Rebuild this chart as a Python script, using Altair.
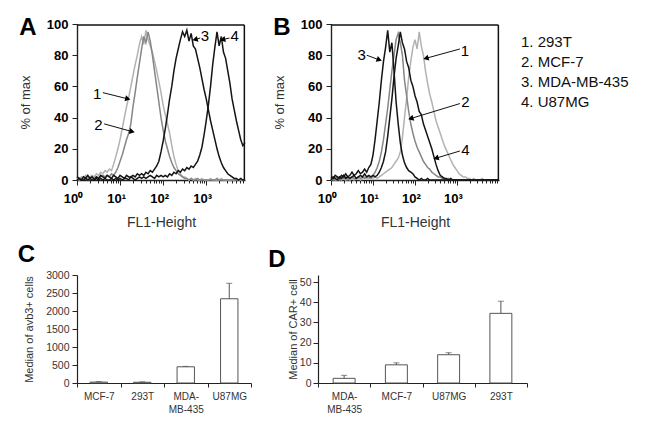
import math
import altair as alt
import pandas as pd

FONT = "Liberation Sans"

# ---------------- histogram data (FL1-Height, log10 bins) ----------------
fl1_log = [0.00, 0.05, 0.10, 0.15, 0.20, 0.25, 0.30, 0.35, 0.40, 0.45,
           0.50, 0.55, 0.60, 0.65, 0.70, 0.75, 0.80, 0.85, 0.90, 0.95,
           1.00, 1.05, 1.10, 1.15, 1.20, 1.25, 1.30, 1.35, 1.40, 1.45,
           1.50, 1.55, 1.60, 1.65, 1.70, 1.75, 1.80, 1.85, 1.90, 1.95,
           2.00, 2.05, 2.10, 2.15, 2.20, 2.25, 2.30, 2.35, 2.40, 2.45,
           2.50, 2.55, 2.60, 2.65, 2.70, 2.75, 2.80, 2.85, 2.90, 2.95,
           3.00, 3.05, 3.10, 3.15, 3.20, 3.25, 3.30, 3.35, 3.40, 3.45,
           3.50, 3.55, 3.60, 3.65, 3.70, 3.75, 3.80, 3.85, 3.90, 3.95,
           4.00]

series_names = ["1. 293T", "2. MCF-7", "3. MDA-MB-435", "4. U87MG"]
series_colors = ["#b2b2b2", "#868686", "#141414", "#141414"]

# Panel A (avb3 staining)
a_293t = [1, 0, 2, 1, 3, 1, 2, 3, 2, 4,
          3, 5, 4, 6, 5, 7, 6, 10, 15, 20,
          26, 33, 40, 47, 53, 60, 67, 74, 80, 87,
          92, 87, 96, 90, 86, 82, 76, 70, 63, 56,
          48, 42, 36, 30, 22, 15, 10, 6, 4, 2,
          2, 1, 0, 1, 0, 1, 0, 0, 1, 0,
          0, 0, 1, 0, 0, 0, 0, 1, 0, 0,
          0, 0, 0, 0, 1, 0, 0, 0, 0]
a_mcf7 = [0, 1, 0, 2, 1, 0, 1, 2, 1, 2,
          1, 2, 3, 2, 3, 2, 4, 3, 5, 8,
          12, 16, 21, 26, 30, 36, 47, 56, 66, 75,
          84, 92, 88, 95, 89, 80, 70, 60, 50, 40,
          32, 25, 20, 15, 11, 8, 6, 4, 3, 2,
          1, 1, 0, 1, 0, 0, 1, 0, 0, 0,
          0, 0, 0, 0, 0, 1, 0, 0, 0, 0,
          0, 0, 0, 0, 0, 0, 0, 0, 0]
a_mda = [2, 1, 0, 2, 1, 3, 1, 2, 0, 2,
         1, 3, 2, 1, 3, 2, 1, 3, 2, 1,
         3, 2, 1, 3, 2, 2, 3, 2, 4, 3,
         4, 3, 5, 4, 6, 5, 7, 9, 12, 18,
         25, 33, 42, 52, 60, 70, 78, 84, 90, 95,
         92, 96, 89, 94, 86, 84, 78, 72, 65, 58,
         52, 45, 38, 32, 26, 20, 15, 11, 8, 6,
         4, 3, 2, 1, 1, 0, 1, 0, 0]
a_u87 = [0, 1, 0, 0, 1, 0, 1, 0, 0, 1,
         0, 1, 0, 1, 0, 0, 1, 0, 1, 0,
         1, 0, 1, 1, 0, 2, 1, 0, 1, 2,
         1, 2, 1, 2, 3, 2, 1, 3, 2, 3,
         2, 3, 2, 4, 3, 5, 4, 6, 5, 7,
         6, 8, 7, 9, 8, 10, 12, 16, 21, 29,
         38, 48, 60, 74, 85, 95, 86, 92, 82, 78,
         70, 62, 52, 45, 38, 32, 26, 22, 24]

# Panel B (CAR staining)
b_293t = [0, 1, 0, 0, 1, 0, 1, 0, 1, 0,
          1, 0, 1, 1, 0, 1, 2, 1, 1, 2,
          1, 2, 1, 2, 3, 4, 5, 6, 7, 8,
          10, 12, 14, 18, 27, 40, 52, 66, 76, 85,
          90, 84, 95, 86, 80, 70, 62, 55, 50, 44,
          38, 34, 30, 26, 22, 19, 16, 13, 10, 8,
          6, 4, 3, 2, 2, 1, 1, 0, 1, 0,
          0, 0, 1, 0, 0, 0, 0, 0, 0, 0,
          0]
b_mcf7 = [1, 0, 1, 2, 0, 1, 1, 2, 0, 1,
          2, 1, 1, 2, 1, 2, 1, 2, 2, 1,
          3, 5, 8, 12, 18, 26, 36, 46, 58, 70,
          80, 90, 94, 88, 80, 64, 54, 44, 36, 30,
          25, 21, 18, 15, 12, 10, 8, 7, 5, 4,
          3, 2, 2, 1, 1, 0, 1, 0, 0, 0,
          0, 0, 0, 0, 0, 0, 0, 0, 0, 0,
          0, 0, 0, 0, 0, 0, 0, 0, 0, 0,
          0]
b_mda = [2, 1, 3, 2, 1, 3, 2, 4, 2, 3,
         5, 3, 4, 6, 4, 5, 7, 5, 8, 10,
         16, 26, 38, 50, 64, 76, 85, 96, 82, 88,
         70, 50, 36, 24, 16, 11, 8, 6, 5, 4,
         2, 1, 0, 1, 0, 0, 1, 0, 0, 0,
         0, 0, 0, 0, 0, 0, 0, 0, 0, 0,
         0, 0, 0, 0, 0, 0, 0, 0, 0, 0,
         0, 0, 0, 0, 0, 0, 0, 0, 0, 0,
         0]
b_u87 = [0, 2, 1, 0, 2, 1, 3, 1, 2, 1,
         2, 3, 1, 2, 3, 2, 4, 2, 3, 2,
         3, 2, 3, 5, 8, 12, 18, 28, 40, 52,
         66, 78, 86, 95, 88, 84, 76, 72, 64, 60,
         54, 50, 44, 42, 36, 32, 28, 24, 20, 15,
         10, 6, 3, 2, 1, 1, 0, 1, 0, 0,
         0, 0, 0, 0, 0, 0, 0, 0, 0, 0,
         0, 0, 0, 0, 0, 0, 0, 0, 0, 0,
         0]

# Arrow annotations (data coordinates: log10 FL1, % of max)
a_arrow_label = ["1", "2", "3", "4"]
a_arrow_text_x = [0.47, 0.50, 2.97, 3.66]
a_arrow_text_y = [55, 35, 92, 92]
a_arrow_tail_x = [0.60, 0.63, 2.86, 3.54]
a_arrow_tail_y = [56, 36, 91, 91]
a_arrow_head_x = [1.18, 1.28, 2.74, 3.38]
a_arrow_head_y = [52, 31, 90, 90]

b_arrow_label = ["3", "1", "2", "4"]
b_arrow_text_x = [0.73, 3.19, 3.20, 3.20]
b_arrow_text_y = [80, 83, 50, 19.5]
b_arrow_tail_x = [0.85, 3.07, 3.07, 3.07]
b_arrow_tail_y = [80, 84, 49, 18.6]
b_arrow_head_x = [1.15, 2.26, 1.90, 2.50]
b_arrow_head_y = [77, 78, 39.4, 14]

# ---------------- bar chart data ----------------
c_lines = ["MCF-7", "293T", "MDA-MB-435", "U87MG"]
c_median = [25, 20, 450, 2340]
c_err = [15, 12, 12, 430]

d_lines = ["MDA-MB-435", "MCF-7", "U87MG", "293T"]
d_median = [2.3, 9.0, 14.0, 34.5]
d_err = [1.5, 1.0, 1.0, 6.0]

# ---------------- helpers ----------------
HIST_W = 168
HIST_H = 156


def hist_df(curves, n):
    rows = []
    for name, vals in zip(series_names, curves):
        for x, v in zip(fl1_log[:n], vals):
            rows.append({"series": name, "fl1": x, "pct": v})
    return pd.DataFrame(rows)


def arrow_df(labels, tx, ty, x1, y1, x2, y2, px_x, px_y):
    rows = []
    for lab, a, b, c, d, e, f in zip(labels, tx, ty, x1, y1, x2, y2):
        ang = math.degrees(math.atan2(-(f - d) * px_y, (e - c) * px_x)) % 360
        rows.append({"label": lab, "tx": a, "ty": b, "x1": c, "y1": d,
                     "x2": e, "y2": f, "angle": ang, "w": 1.0})
    return pd.DataFrame(rows)


def hist_panel(letter, curves, n, xmax, arrows, show_legend, title_dx):
    df = hist_df(curves, n)
    ticks = [k + math.log10(m) for k in range(4) for m in range(1, 10)
             if k + math.log10(m) <= xmax + 1e-9]
    is_major = "abs(datum.value - round(datum.value)) < 0.001"
    xscale = alt.Scale(domain=[0, xmax], nice=False, zero=False)
    yscale = alt.Scale(domain=[0, 100], nice=False)
    xaxis = alt.Axis(
        values=ticks,
        labelExpr=("(" + is_major + " && datum.value < 3.5) ? '10' + "
                   "['\u2070','\u00b9','\u00b2','\u00b3','\u2074'][round(datum.value)] : ''"),
        tickSize={"condition": {"test": is_major, "value": 5}, "value": 3},
        labelFontWeight="bold", labelFontSize=13, labelColor="#000",
        labelPadding=7, labelOffset=-4, labelFlush=False, labelOverlap=False,
        labelBound=False,
        title="FL1-Height", titleFontSize=14, titleFontWeight="normal",
        titleColor="#333", titlePadding=10,
        domainColor="#222", domainWidth=1.4, tickColor="#222", grid=False,
    )
    yaxis = alt.Axis(
        values=[0, 20, 40, 60, 80, 100], tickSize=5,
        labelFontWeight="bold", labelFontSize=13, labelColor="#000",
        labelPadding=4, labelOverlap=False, labelFlush=False, labelBound=False,
        title="% of max", titleFontSize=13,
        titleFontWeight="normal", titleColor="#333", titlePadding=14,
        domainColor="#222", domainWidth=1.4, tickColor="#222", grid=False,
    )
    if show_legend:
        legend = alt.Legend(
            title=None, orient="none", legendX=175, legendY=10,
            symbolOpacity=0, symbolSize=0, symbolStrokeWidth=0,
            labelFontSize=15, labelFont=FONT, labelColor="#111",
            labelOffset=0, rowPadding=4, padding=0,
        )
    else:
        legend = None
    # segments: arrow shafts plus the top and right edges of the plotting box
    top_y = 99.4
    right_x = xmax - 0.015
    frame_rows = pd.DataFrame({
        "x1": [0.0, right_x], "x2": [right_x, right_x],
        "y1": [top_y, 0.0], "y2": [top_y, top_y], "w": [1.5, 1.5],
    })
    seg_df = pd.concat([arrows[["x1", "x2", "y1", "y2", "w"]], frame_rows],
                       ignore_index=True)
    segments = alt.Chart(seg_df).mark_rule(color="#111").encode(
        x=alt.X("x1:Q", scale=xscale, axis=None),
        y=alt.Y("y1:Q", scale=yscale, axis=None),
        x2="x2:Q", y2="y2:Q",
        strokeWidth=alt.StrokeWidth("w:Q", scale=None),
    )
    lines = alt.Chart(df).mark_line(strokeWidth=1.5).encode(
        x=alt.X("fl1:Q", scale=xscale, axis=xaxis),
        y=alt.Y("pct:Q", scale=yscale, axis=yaxis),
        color=alt.Color("series:N", scale=alt.Scale(domain=series_names,
                                                    range=series_colors),
                        legend=legend),
        detail="series:N",
    )
    adf = arrows
    heads = alt.Chart(adf).mark_point(shape="triangle-right", filled=True,
                                      color="#000", size=38, opacity=1).encode(
        x=alt.X("x2:Q", scale=xscale, axis=None),
        y=alt.Y("y2:Q", scale=yscale, axis=None),
        angle=alt.Angle("angle:Q", scale=None),
    )
    labels = alt.Chart(adf).mark_text(fontSize=15, font=FONT, color="#000").encode(
        x=alt.X("tx:Q", scale=xscale, axis=None),
        y=alt.Y("ty:Q", scale=yscale, axis=None),
        text="label:N",
    )
    return alt.layer(lines, segments, heads, labels).resolve_axis(
        x="independent", y="independent"
    ).properties(
        width=HIST_W, height=HIST_H,
        title=alt.TitleParams(text=letter, anchor="start", frame="bounds",
                              fontSize=24, fontWeight="bold", font=FONT,
                              color="#000", dy=22, dx=title_dx, offset=0),
    )


def bar_panel(letter, lines, med, err, ytitle, ymax, yvals, w, h, bandfrac,
              title_dx, label_pad, title_pad):
    df = pd.DataFrame({"line": lines, "median": med, "err": err})
    base = alt.Chart(df).transform_calculate(upper="datum.median + datum.err")
    xaxis = alt.Axis(title=None, tickBand="extent", labelAngle=0,
                     labelExpr="datum.value == 'MDA-MB-435' ? ['MDA-', 'MB-435'] : datum.label",
                     labelFontSize=10, labelColor="#333", labelFont=FONT,
                     labelLineHeight=13, labelPadding=4,
                     labelOverlap=False,
                     tickSize=4, tickColor="#222", domainColor="#222",
                     domainWidth=1.2)
    xscale = alt.Scale(paddingInner=0, paddingOuter=0)
    yscale = alt.Scale(domain=[0, ymax], nice=False)
    yaxis = alt.Axis(values=yvals, format="d", tickSize=5, labelFontSize=10.5,
                     labelColor="#333", labelPadding=label_pad,
                     labelOverlap=False, labelFlush=False, labelBound=False,
                     title=ytitle, titleFontSize=11, titleFontWeight="normal",
                     titleColor="#333", titlePadding=title_pad,
                     domainColor="#222", tickColor="#222", domainWidth=1.2,
                     grid=False)
    bars = base.mark_bar(width=alt.RelativeBandSize(bandfrac), fill="white",
                         stroke="#555", strokeWidth=1).encode(
        x=alt.X("line:N", sort=lines, scale=xscale, axis=xaxis),
        y=alt.Y("median:Q", scale=yscale, axis=yaxis))
    rule = base.mark_rule(color="#555", strokeWidth=1).encode(
        x=alt.X("line:N", sort=lines, scale=xscale, axis=None),
        y=alt.Y("median:Q", scale=yscale, axis=None), y2="upper:Q")
    cap = base.mark_tick(color="#555", size=6, thickness=1).encode(
        x=alt.X("line:N", sort=lines, scale=xscale, axis=None),
        y=alt.Y("upper:Q", scale=yscale, axis=None))
    return alt.layer(bars, rule, cap).resolve_axis(
        x="independent", y="independent"
    ).properties(
        width=w, height=h,
        title=alt.TitleParams(text=letter, anchor="start", frame="bounds",
                              fontSize=24, fontWeight="bold", font=FONT,
                              color="#000", offset=3, dx=title_dx),
    )


px_a_x = HIST_W / 3.9
px_b_x = HIST_W / 4.0
px_y = HIST_H / 100.0

arrows_a = arrow_df(a_arrow_label, a_arrow_text_x, a_arrow_text_y,
                    a_arrow_tail_x, a_arrow_tail_y, a_arrow_head_x,
                    a_arrow_head_y, px_a_x, px_y)
arrows_b = arrow_df(b_arrow_label, b_arrow_text_x, b_arrow_text_y,
                    b_arrow_tail_x, b_arrow_tail_y, b_arrow_head_x,
                    b_arrow_head_y, px_b_x, px_y)

panel_a = hist_panel("A", [a_293t, a_mcf7, a_mda, a_u87], 79, 3.9, arrows_a,
                     False, 0)
panel_b = hist_panel("B", [b_293t, b_mcf7, b_mda, b_u87], 81, 4.0, arrows_b,
                     True, 0)

panel_c = bar_panel("C", c_lines, c_median, c_err, "Median of avb3+ cells",
                    3000, [0, 500, 1000, 1500, 2000, 2500, 3000], 174, 108,
                    0.4, -6, 3, 11)
panel_d = bar_panel("D", d_lines, d_median, d_err, "Median of CAR+ cell",
                    53.5, [0, 10, 20, 30, 40, 50], 209, 108, 0.42, -19, 2, 1)

row1 = alt.hconcat(panel_a, panel_b, spacing=23).resolve_scale(
    color="independent").resolve_legend(color="independent")
row2 = alt.hconcat(panel_c, panel_d, spacing=15)

chart = alt.vconcat(row1, row2, spacing=12).properties(
    padding={"left": 9, "top": 7, "right": 5, "bottom": 5},
    background="white",
).configure(font=FONT).configure_axis(
    grid=False, labelFont=FONT, titleFont=FONT
).configure_view(stroke="transparent")

chart.save("out.html", embed_options={"renderer": "svg", "actions": False})
